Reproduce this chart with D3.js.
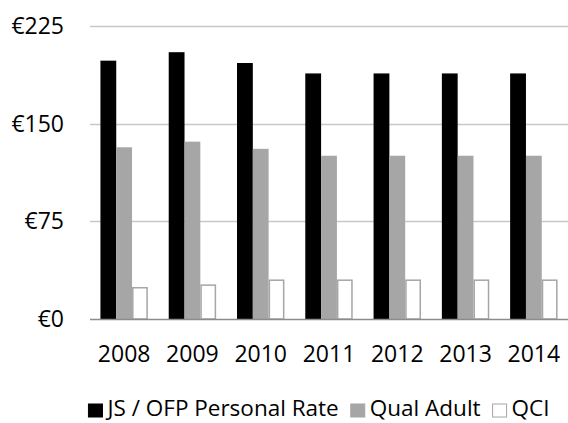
<!DOCTYPE html>
<html>
<head>
<meta charset="utf-8">
<script src="https://cdn.jsdelivr.net/npm/d3@7"></script>
<style>
  html, body { margin: 0; padding: 0; background: #fff; }
  svg { display: block; font-family: "Open Sans", "Liberation Sans", sans-serif; }
</style>
</head>
<body>
<svg id="chart" width="568" height="423"></svg>
<script>
// Weekly social welfare rates by year
const years = ["2008", "2009", "2010", "2011", "2012", "2013", "2014"];
const seriesNames = ["JS / OFP Personal Rate", "Qual Adult", "QCI"];
const personalRate = [197.8, 204.3, 196, 188, 188, 188, 188];
const qualAdult = [131.3, 135.6, 130.1, 124.8, 124.8, 124.8, 124.8];
const qci = [24, 26, 29.8, 29.8, 29.8, 29.8, 29.8];
const yTicks = [0, 75, 150, 225];
const seriesValues = [personalRate, qualAdult, qci];

const fills = ["#000000", "#a6a6a6", "#ffffff"];
const strokes = ["#000000", "#a6a6a6", "#a6a6a6"];

const svg = d3.select("#chart");
const margin = { left: 90, right: 0, top: 26, bottom: 104 };
const W = 568, H = 423;

const x0 = d3.scaleBand().domain(years).range([margin.left, W - margin.right]).padding(0);
const x1 = d3.scaleBand().domain(d3.range(seriesNames.length))
  .range([0, x0.bandwidth()]).paddingInner(0).paddingOuter(0.66);
const y = d3.scaleLinear().domain([0, 225]).range([H - margin.bottom, margin.top]);

// horizontal gridlines
svg.append("g")
  .selectAll("line")
  .data(yTicks.filter(d => d > 0))
  .join("line")
  .attr("x1", margin.left).attr("x2", W - margin.right)
  .attr("y1", d => Math.round(y(d)) + 0.5).attr("y2", d => Math.round(y(d)) + 0.5)
  .attr("stroke", "#c8c8c8").attr("stroke-width", 1.5);

// y axis labels
svg.append("g")
  .selectAll("text")
  .data(yTicks)
  .join("text")
  .attr("x", 64)
  .attr("y", d => y(d) + 8)
  .attr("text-anchor", "end")
  .attr("font-size", 23)
  .attr("fill", "#000")
  .text(d => "€" + d);

// bars
const groups = svg.append("g")
  .selectAll("g")
  .data(years)
  .join("g")
  .attr("transform", d => `translate(${x0(d)},0)`);

groups.selectAll("rect")
  .data((d, i) => seriesValues.map((vals, s) => ({ s, v: vals[i] })))
  .join("rect")
  .attr("x", d => x1(d.s) + 0.75)
  .attr("width", x1.bandwidth() - 1.5)
  .attr("y", d => y(d.v))
  .attr("height", d => y(0) - y(d.v))
  .attr("fill", d => fills[d.s])
  .attr("stroke", d => strokes[d.s])
  .attr("stroke-width", 1.5);

// baseline axis
svg.append("line")
  .attr("x1", margin.left).attr("x2", W - margin.right)
  .attr("y1", y(0) + 0.5).attr("y2", y(0) + 0.5)
  .attr("stroke", "#8c8c8c").attr("stroke-width", 1.5);

// x axis labels
svg.append("g")
  .selectAll("text")
  .data(years)
  .join("text")
  .attr("x", d => x0(d) + x0.bandwidth() / 2)
  .attr("y", 362)
  .attr("text-anchor", "middle")
  .attr("font-size", 23)
  .attr("fill", "#000")
  .text(d => d);

// legend
const legend = svg.append("g");
const items = legend.selectAll("g")
  .data(seriesNames)
  .join("g");
items.append("rect")
  .attr("x", 0).attr("y", 404)
  .attr("width", 14).attr("height", 13)
  .attr("fill", (d, i) => fills[i])
  .attr("stroke", (d, i) => strokes[i])
  .attr("stroke-width", 1);
items.append("text")
  .attr("x", 19).attr("y", 416)
  .attr("font-size", 22.5)
  .attr("fill", "#000")
  .text(d => d);

let cx = 0;
const gap = 12;
items.each(function () {
  const g = d3.select(this);
  const w = 19 + g.select("text").node().getComputedTextLength();
  g.attr("transform", `translate(${cx},0)`);
  cx += w + gap;
});
const totalW = cx - gap;
legend.attr("transform", `translate(${319 - totalW / 2},0)`);
</script>
</body>
</html>
